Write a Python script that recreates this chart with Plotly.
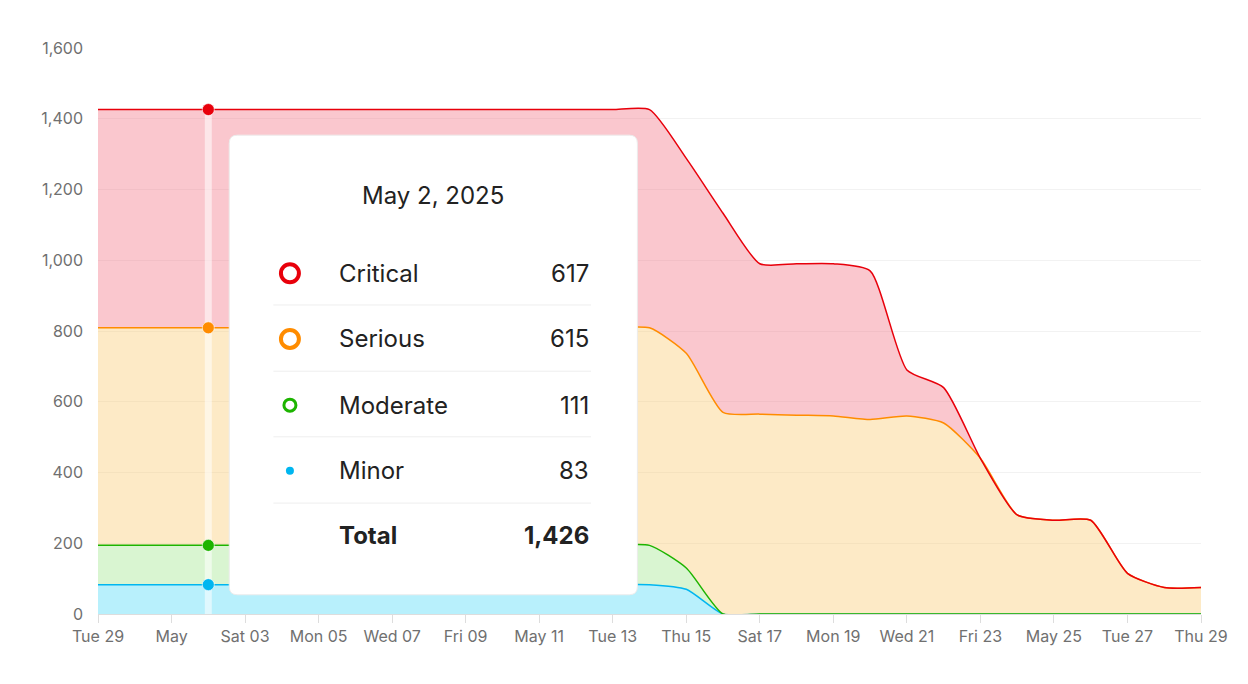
import plotly.graph_objects as go
import pandas as pd
import numpy as np

dates = pd.date_range("2025-04-29", "2025-05-29", freq="D")

# per-severity counts, Apr 29 .. May 29
minor = [83] * 16 + [70] + [0] * 14
moderate = [111] * 16 + [60] + [0] * 14
serious = [615] * 16 + [607, 570, 565, 562, 560, 550, 560, 540, 440, 280, 265, 265, 115, 75, 75]
critical = [617] * 16 + [551, 563, 425, 428, 430, 420, 130, 100, 0, 0, 0, 0, 0, 0, 0]

tick_dates = pd.date_range("2025-04-29", "2025-05-29", freq="2D")
tick_text = ["Tue 29", "May", "Sat 03", "Mon 05", "Wed 07", "Fri 09", "May 11", "Tue 13",
             "Thu 15", "Sat 17", "Mon 19", "Wed 21", "Fri 23", "May 25", "Tue 27", "Thu 29"]

series = [
    ("Minor", minor, "#00b6f0", "rgba(0,200,245,0.28)"),
    ("Moderate", moderate, "#1db400", "rgba(120,220,90,0.28)"),
    ("Serious", serious, "#ff8c00", "rgba(250,205,120,0.42)"),
    ("Critical", critical, "#e8000b", "rgba(240,100,120,0.36)"),
]

fig = go.Figure()
for name, vals, line_c, fill_c in series:
    fig.add_trace(go.Scatter(x=dates, y=vals, name=name, stackgroup="one",
                             line=dict(color=line_c, width=1.5, shape="spline", smoothing=0.6),
                             fillcolor=fill_c, mode="lines"))

# hover line and markers at May 2
hover_idx = 3
hover_date = dates[hover_idx]
cum = np.cumsum([s[1][hover_idx] for s in series])
fig.add_trace(go.Scatter(x=[hover_date, hover_date], y=[0, cum[-1]], mode="lines",
                         line=dict(color="rgba(255,255,255,0.55)", width=7),
                         showlegend=False, hoverinfo="skip"))
fig.add_trace(go.Scatter(x=[hover_date] * 4, y=cum, mode="markers",
                         marker=dict(size=12, color=[s[2] for s in series],
                                     line=dict(color="rgba(255,255,255,0.6)", width=1)),
                         showlegend=False, hoverinfo="skip"))

# tooltip box (rounded)
x0, x1, y0, y1 = 0.119, 0.489, 0.034, 0.846
rx, ry_ = 8 / 1103, 8 / 566
path = (f"M {x0+rx},{y0} L {x1-rx},{y0} Q {x1},{y0} {x1},{y0+ry_} L {x1},{y1-ry_} "
        f"Q {x1},{y1} {x1-rx},{y1} L {x0+rx},{y1} Q {x0},{y1} {x0},{y1-ry_} "
        f"L {x0},{y0+ry_} Q {x0},{y0} {x0+rx},{y0} Z")
fig.add_shape(type="path", xref="paper", yref="paper", path=path,
              fillcolor="white", line=dict(color="#ececec", width=1), layer="above")


def label(x, y, text, anchor):
    fig.add_annotation(xref="paper", yref="paper", x=x, y=y, text=text, xanchor=anchor,
                       yanchor="middle", showarrow=False, font=dict(size=24, color="#222"))


label(0.304, 0.739, "May 2, 2025", "center")
rows_y = [0.602, 0.486, 0.369, 0.253]
for (name, vals, line_c, _), ry in zip(reversed(series), rows_y):
    label(0.217, ry, name, "left")
    label(0.447, ry, f"{vals[hover_idx]:,}", "right")
    if name == "Minor":
        r, w = 4, 0
    elif name == "Moderate":
        r, w = 6, 3
    else:
        r, w = 9, 4
    fig.add_shape(type="circle", xref="paper", yref="paper",
                  x0=0.174 - r / 1103, x1=0.174 + r / 1103, y0=ry - r / 566, y1=ry + r / 566,
                  fillcolor=line_c if name == "Minor" else "white",
                  line=dict(color=line_c, width=w), layer="above")
for sy in [0.546, 0.429, 0.313, 0.196]:
    fig.add_shape(type="line", xref="paper", yref="paper", x0=0.159, x1=0.447, y0=sy, y1=sy,
                  line=dict(color="#eeeeee", width=1), layer="above")
label(0.217, 0.138, "<b>Total</b>", "left")
label(0.447, 0.138, f"<b>{int(cum[-1]):,}</b>", "right")

fig.update_layout(
    width=1248, height=684, margin=dict(l=90, r=55, t=40, b=78),
    paper_bgcolor="white", plot_bgcolor="white", showlegend=False,
    font=dict(family="Inter, Liberation Sans, sans-serif", size=16, color="#707070"),
    xaxis=dict(range=[dates[0], dates[-1]], tickvals=tick_dates, ticktext=tick_text,
               showgrid=False, showline=True, linecolor="#ddd", ticks="outside",
               tickcolor="#ddd", ticklen=8, automargin=False),
    yaxis=dict(range=[0, 1600], dtick=200, tickformat=",", gridcolor="#f2f2f2",
               zeroline=False, ticklabelstandoff=14, automargin=False),
)

fig.write_html("out.html")
